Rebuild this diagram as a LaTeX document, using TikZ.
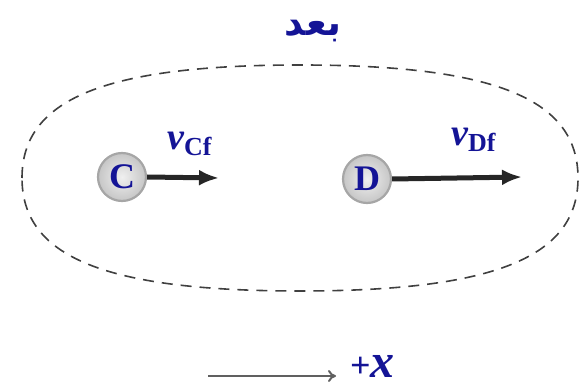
\documentclass[tikz,border=0pt]{standalone}
\usepackage{fontspec}
\setmainfont{Liberation Serif}
\newfontfamily\arabicfont[Script=Arabic]{DejaVu Sans}
\TeXXeTstate=1
\usetikzlibrary{arrows.meta}
\definecolor{txtblue}{RGB}{20,20,150}
\tikzset{
  ball/.style={circle, minimum size=48pt, inner sep=0pt, draw=gray!70, line width=2.2pt,
    inner color=gray!12, outer color=gray!45, text=txtblue,
    font=\fontsize{36}{36}\selectfont\bfseries},
  vel/.style={line width=5pt, draw=black!85, -{Latex[length=20pt,width=16pt]}},
  vlab/.style={text=txtblue, inner sep=0pt, anchor=base west},
  axis/.style={line width=2pt, draw=gray!75!black, -{To[length=8pt,width=12pt,line width=2pt]}},
  bound/.style={dash pattern=on 11pt off 8pt, line width=1.6pt, draw=black!75}
}
\newcommand{\vsub}[1]{{\fontsize{38}{38}\selectfont\bfseries\itshape v}{\fontsize{26}{26}\selectfont\bfseries\raisebox{-6pt}{#1}}}
\begin{document}
\begin{tikzpicture}[x=1pt,y=-1pt]
\useasboundingbox (0,0) rectangle (580,387);
\node[text=txtblue, inner sep=0pt] (title) at (313,31) {\fontsize{37}{37}\selectfont\arabicfont\bfseries\beginR بعد\endR};
\draw[bound] (22,178) .. controls (22,99) and (105,65) .. (300,65)
  .. controls (495,65) and (578,99) .. (578,178)
  .. controls (578,257) and (495,291) .. (300,291)
  .. controls (105,291) and (22,257) .. (22,178) -- cycle;
\node[ball] (C) at (122,177) {C};
\node[ball] (D) at (367,179) {D};
\coordinate (Ce) at (219,178);
\coordinate (De) at (522,177);
\draw[vel] (C.east) -- (Ce);
\draw[vel] (D.east) -- (De);
\node[vlab] (vC) at (167,150) {\vsub{Cf}};
\node[vlab] (vD) at (451,146) {\vsub{Df}};
\coordinate (a1) at (208,376);
\coordinate (a2) at (336,376);
\draw[axis] (a1) -- (a2);
\node[text=txtblue, anchor=base west, inner sep=0pt] (px) at (350,377) {{\fontsize{36}{36}\selectfont\bfseries +}{\fontsize{48}{48}\selectfont\bfseries\itshape x}};
\end{tikzpicture}
\end{document}
